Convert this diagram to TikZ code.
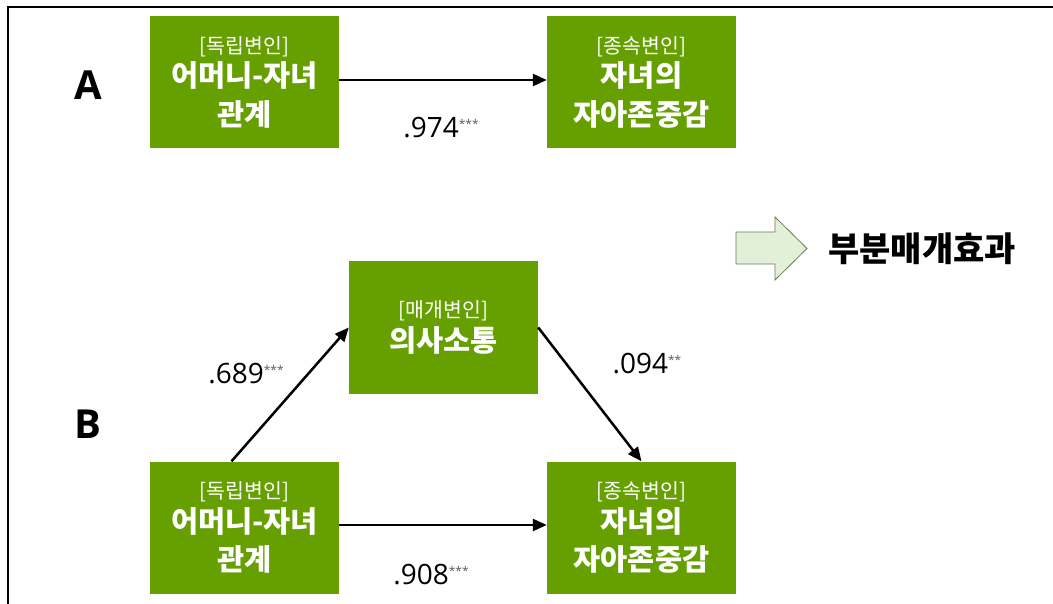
\documentclass[tikz,border=0pt]{standalone}
\usepackage{fontspec}
\setmainfont{Open Sans}
\newfontfamily\kr{Noto Sans CJK KR}
\usetikzlibrary{arrows.meta}
\definecolor{boxgreen}{RGB}{102,160,0}
\definecolor{arrfill}{RGB}{226,240,217}
\definecolor{arrdraw}{RGB}{105,125,85}
\definecolor{stargray}{RGB}{90,90,90}
\newcommand\smtag[1]{{\fontsize{20.5}{22}\selectfont #1}}
\newcommand\stars[1]{{\fontsize{12}{12}\selectfont\color{stargray}\raisebox{9pt}{#1}}}
\begin{document}
\begin{tikzpicture}[x=1pt,y=-1pt,
  vbox/.style={fill=boxgreen, minimum width=189pt, minimum height=132pt, inner sep=0pt,
    text=white, align=center, font=\kr\fontsize{29.5}{38.5}\selectfont},
  conn/.style={line width=2.5pt, -{Triangle[length=14pt,width=12pt]}},
  coef/.style={font=\fontsize{28}{30}\selectfont, text=black, inner sep=0pt},
  panel/.style={font=\fontsize{40}{40}\selectfont\bfseries, inner sep=0pt},
]
\useasboundingbox (0,0) rectangle (1053,604);
\draw[line width=2pt] (1053,7.5) -- (7.5,7.5) -- (7.5,604);

% Panel A
\node[panel] (labA) at (88,85) {A};
\node[vbox] (aIV) at (244.5,82) {\smtag{[독립변인]}\\[-5pt]\bfseries 어머니-자녀\\\bfseries 관계};
\node[vbox] (aDV) at (641.5,82) {\smtag{[종속변인]}\\[-5pt]\bfseries 자녀의\\\bfseries 자아존중감};
\draw[conn] (aIV.east |- 0,80) -- (aDV.west |- 0,80);
\node[coef] (cA) at (441,128) {.974\stars{***}};

% Panel B
\node[panel] (labB) at (88,424) {B};
\node[vbox] (med) at (443.5,327.5) {\smtag{[매개변인]}\\[-5pt]\bfseries 의사소통};
\node[vbox] (bIV) at (244.5,527.5) {\smtag{[독립변인]}\\[-5pt]\bfseries 어머니-자녀\\\bfseries 관계};
\node[vbox] (bDV) at (641.5,527.5) {\smtag{[종속변인]}\\[-5pt]\bfseries 자녀의\\\bfseries 자아존중감};
\draw[conn] ([xshift=-13pt]bIV.north) -- (med.west);
\draw[conn] (med.east) -- (bDV.north);
\draw[conn] (bIV.east |- 0,525) -- (bDV.west |- 0,525);
\node[coef] (cB1) at (246,374) {.689\stars{***}};
\node[coef] (cB2) at (647,364) {.094\stars{**}};
\node[coef] (cB3) at (431,575) {.908\stars{***}};

% Result
\draw[fill=arrfill, draw=arrdraw, line width=0.8pt]
  (736,232) -- (775,232) -- (775,217) -- (807,248.5) -- (775,280) -- (775,264) -- (736,264) -- cycle;
\node[font=\kr\fontsize{34}{36}\selectfont\bfseries, inner sep=0pt] (res) at (922,249) {부분매개효과};
\end{tikzpicture}
\end{document}
